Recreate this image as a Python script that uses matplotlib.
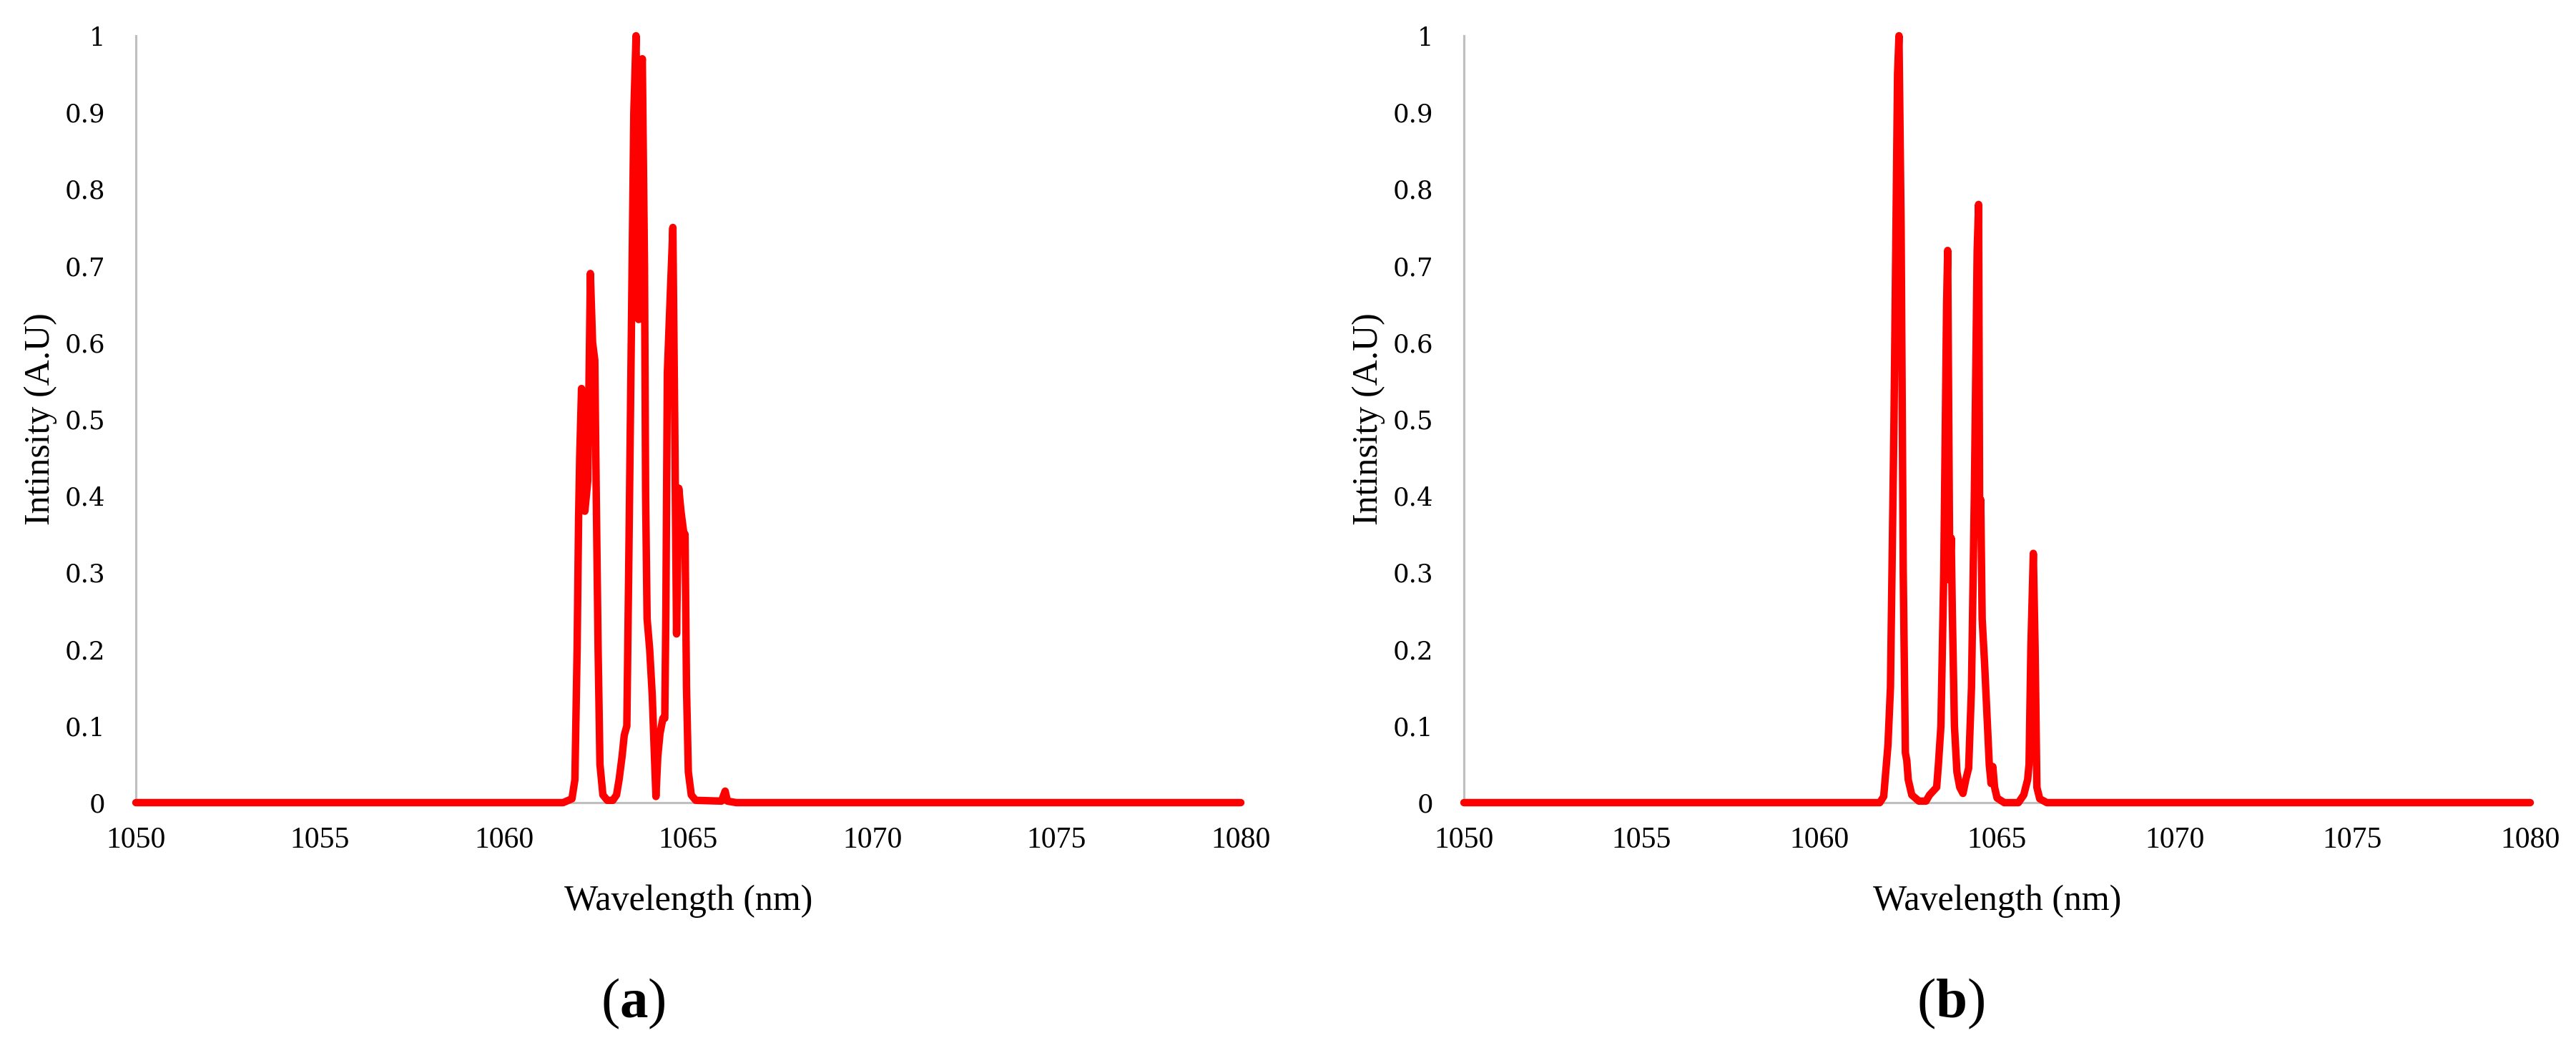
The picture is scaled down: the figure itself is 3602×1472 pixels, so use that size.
import matplotlib
matplotlib.use("Agg")
import matplotlib.pyplot as plt

plt.rcParams['mathtext.fontset'] = 'custom'
plt.rcParams['mathtext.rm'] = 'Liberation Serif'
plt.rcParams['mathtext.bf'] = 'Liberation Serif:bold'

# spectrum (a)
wl_a = [1050.0, 1061.6, 1061.84, 1061.92, 1061.98, 1062.02, 1062.05, 1062.10, 1062.14,
        1062.19, 1062.27, 1062.34, 1062.40, 1062.46, 1062.50, 1062.55, 1062.60, 1062.68,
        1062.80, 1062.95, 1063.05, 1063.12, 1063.20, 1063.26, 1063.33, 1063.38, 1063.45,
        1063.52, 1063.58, 1063.65, 1063.72, 1063.75, 1063.81, 1063.84, 1063.88, 1063.95,
        1064.02, 1064.08, 1064.12, 1064.17, 1064.23, 1064.31, 1064.36, 1064.39, 1064.43,
        1064.50, 1064.58, 1064.63, 1064.68, 1064.74, 1064.80, 1064.88, 1064.91, 1064.95,
        1065.00, 1065.08, 1065.20, 1065.90, 1066.00, 1066.06, 1066.30, 1080.0]
int_a = [0.0, 0.0, 0.005, 0.03, 0.20, 0.37, 0.45, 0.54, 0.45,
         0.38, 0.42, 0.69, 0.60, 0.577, 0.40, 0.20, 0.05, 0.01,
         0.003, 0.003, 0.01, 0.03, 0.06, 0.088, 0.10, 0.30, 0.60,
         0.90, 1.0, 0.63, 0.95, 0.97, 0.70, 0.40, 0.24, 0.20,
         0.14, 0.06, 0.008, 0.06, 0.09, 0.11, 0.11, 0.25, 0.56,
         0.65, 0.75, 0.50, 0.22, 0.41, 0.38, 0.35, 0.35, 0.15,
         0.04, 0.01, 0.003, 0.002, 0.015, 0.002, 0.0, 0.0]

# spectrum (b)
wl_b = [1050.0, 1061.70, 1061.81, 1061.93, 1062.00, 1062.10, 1062.20, 1062.24, 1062.30,
        1062.36, 1062.42, 1062.46, 1062.50, 1062.60, 1062.80, 1063.00, 1063.10, 1063.20,
        1063.30, 1063.35, 1063.42, 1063.50, 1063.58, 1063.61, 1063.64, 1063.67, 1063.71,
        1063.74, 1063.80, 1063.87, 1063.95, 1064.04, 1064.12, 1064.20, 1064.28, 1064.36,
        1064.44, 1064.48, 1064.51, 1064.54, 1064.58, 1064.65, 1064.72, 1064.78, 1064.83,
        1064.88, 1064.93, 1065.00, 1065.20, 1065.60, 1065.75, 1065.86, 1065.90, 1065.95,
        1066.02, 1066.07, 1066.12, 1066.20, 1066.40, 1080.0]
int_b = [0.0, 0.0, 0.008, 0.075, 0.15, 0.50, 0.95, 1.0, 0.75,
         0.30, 0.065, 0.055, 0.03, 0.01, 0.002, 0.002, 0.01, 0.015,
         0.02, 0.05, 0.10, 0.30, 0.65, 0.72, 0.50, 0.29, 0.345,
         0.25, 0.10, 0.04, 0.02, 0.012, 0.03, 0.045, 0.15, 0.40,
         0.72, 0.78, 0.36, 0.395, 0.24, 0.18, 0.11, 0.05, 0.025,
         0.047, 0.02, 0.006, 0.0, 0.0, 0.01, 0.03, 0.05, 0.20,
         0.325, 0.20, 0.02, 0.005, 0.0, 0.0]

x_ticks = [1050, 1055, 1060, 1065, 1070, 1075, 1080]
y_ticks = [0, 0.1, 0.2, 0.3, 0.4, 0.5, 0.6, 0.7, 0.8, 0.9, 1]
y_tick_labels = ['0', '0.1', '0.2', '0.3', '0.4', '0.5', '0.6', '0.7', '0.8', '0.9', '1']

W, H = 3602, 1472
fig = plt.figure(figsize=(W / 300, H / 300), dpi=300)

# (data x, data y, axes left px, axes width px, tag, tag centre px)
panels = [
    (wl_a, int_a, 190, 1545, 'a', 885),
    (wl_b, int_b, 2047, 1491, 'b', 2728),
]

for wl, inten, x0, w, tag, tag_x in panels:
    ax = fig.add_axes([x0 / W, 1 - 1122 / H, w / W, 1072 / H])
    ax.plot(wl, inten, color='#ff0000', lw=2.5, solid_joinstyle='round',
            solid_capstyle='round', clip_on=False, zorder=3)
    ax.set_xlim(1050, 1080)
    ax.set_ylim(0, 1)
    ax.set_xticks(x_ticks)
    ax.set_xticklabels([str(t) for t in x_ticks], family='Liberation Serif', fontsize=10)
    ax.set_yticks(y_ticks)
    ax.set_yticklabels(y_tick_labels, family='DejaVu Serif', fontsize=8.5)
    ax.tick_params(axis='both', length=0)
    ax.tick_params(axis='y', pad=10.3)
    ax.tick_params(axis='x', pad=8)
    for s in ['top', 'right']:
        ax.spines[s].set_visible(False)
    for s in ['left', 'bottom']:
        ax.spines[s].set_color('#bfbfbf')
        ax.spines[s].set_linewidth(0.75)
    ax.set_xlabel('Wavelength (nm)', family='Liberation Serif', fontsize=12, va='center')
    ax.xaxis.set_label_coords(0.5, -(1260 - 1122) / 1072)
    ax.set_ylabel('Intinsity (A.U)', family='Liberation Serif', fontsize=12, va='center')
    ax.yaxis.set_label_coords(-133 / w, 0.5)
    fig.text(tag_x / W, 1 - 1403 / H, '(' + r'$\mathbf{' + tag + '}$' + ')',
             family='Liberation Serif', fontsize=19, ha='center', va='center')

fig.savefig('out.png', dpi=300)
